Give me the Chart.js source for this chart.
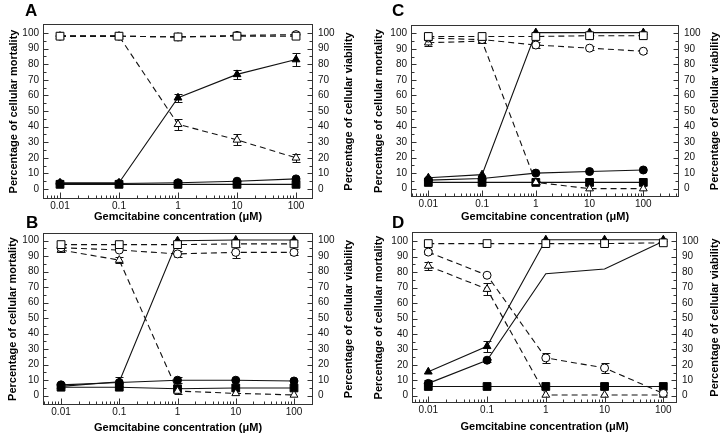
<!DOCTYPE html>
<html>
<head>
<meta charset="utf-8">
<script src="https://cdn.jsdelivr.net/npm/chart.js@4"></script>
<style>
  body { margin: 0; background: #fff; width: 728px; height: 437px; position: relative; overflow: hidden;
         font-family: "Liberation Sans", Arial, sans-serif; }
  canvas { position: absolute; }
  .tag { position: absolute; font-weight: bold; font-size: 17px; line-height: 18px; color: #000; }
</style>
</head>
<body>
<canvas id="chartA" width="364" height="232" style="left:0;top:0"></canvas>
<canvas id="chartC" width="364" height="232" style="left:364px;top:0"></canvas>
<canvas id="chartB" width="364" height="228" style="left:0;top:209px"></canvas>
<canvas id="chartD" width="364" height="228" style="left:364px;top:209px"></canvas>
<div class="tag" style="left:25px;top:2px">A</div>
<div class="tag" style="left:392px;top:2px">C</div>
<div class="tag" style="left:26px;top:214px">B</div>
<div class="tag" style="left:392px;top:214px">D</div>
<script>
const concentrations = [0.01, 0.1, 1, 10, 100];
const yTickValues = [0, 10, 20, 30, 40, 50, 60, 70, 80, 90, 100];
const xTitle = 'Gemcitabine concentration (μM)';
const leftTitle = 'Percentage of cellular mortality';
const rightTitle = 'Percentage of cellular viability';

// panel A
const aOpenSquare = [98, 98, 97.5, 98, 98];
const aOpenCircle = [98, 98, 97.5, 98.5, 99];
const aOpenTriangle = [98, 98, 41.5, 31.5, 20];
const aOpenTriangleErr = [0, 0, 3.5, 3.5, 2.5];
const aFilledTriangle = [4, 4, 58.5, 73.5, 83];
const aFilledTriangleErr = [0, 0, 2.5, 3, 4];
const aFilledCircle = [3.5, 3.5, 4, 5, 6.5];
const aFilledSquare = [3, 3, 3, 3, 3];

// panel B
const bOpenSquare = [97.5, 97.5, 97.5, 98, 98];
const bOpenCircle = [95.5, 94, 91.5, 92.5, 92.5];
const bOpenCircleErr = [0, 0, 2, 3.5, 2];
const bOpenTriangle = [94, 87.5, 3, 1.5, 0.5];
const bOpenTriangleErr = [1.5, 2, 2, 0, 0];
const bFilledTriangle = [6, 9, 100, 100.5, 100.5];
const bFilledTriangleErr = [0, 3, 0, 0, 0];
const bFilledCircle = [7, 8.5, 10, 10, 9.5];
const bFilledCircleErr = [0, 0, 2, 0, 0];
const bFilledSquare = [5.5, 5.5, 4.5, 5, 5];

// panel C
const cOpenSquare = [98, 98, 98, 98.5, 98.5];
const cOpenCircle = [97, 96, 92.5, 90.5, 88.5];
const cOpenCircleErr = [0, 0, 2, 1.5, 1];
const cOpenTriangle = [94, 95, 4, 0, 0];
const cOpenTriangleErr = [2, 1, 1, 0, 0];
const cFilledTriangle = [7, 9, 100.5, 100.5, 100.5];
const cFilledCircle = [5.5, 6.5, 10, 11, 12];
const cFilledSquare = [4, 4, 4, 4, 4];

// panel D
const dOpenSquare = [98.5, 98.5, 98.5, 98.5, 99];
const dOpenCircle = [93, 78, 24.5, 18, 1.5];
const dOpenCircleErr = [1.5, 0, 3, 3, 1];
const dOpenTriangle = [84, 69, 0.5, 0.5, 0.5];
const dOpenTriangleErr = [2.5, 4, 0, 0, 0];
const dFilledTriangle = [15.5, 32, 101, 101, 101];
const dFilledTriangleErr = [0, 3.5, 0, 0, 0];
const dFilledCircle = [8, 23, 79, 82, 100];
const dFilledCircleErr = [2, 1, 0, 0, 0];
const dFilledSquare = [6, 6, 6, 6, 6];

Chart.defaults.font.family = '"Liberation Sans", Arial, sans-serif';
Chart.defaults.color = '#000';

// marker helpers
const openSq = (v, e) => ({ values: v, errors: e, shape: 'rect', radius: 5.5, filled: false, dashed: true });
const openCi = (v, e) => ({ values: v, errors: e, shape: 'circle', radius: 4, filled: false, dashed: true });
const openTr = (v, e) => ({ values: v, errors: e, shape: 'triangle', radius: 4.5, filled: false, dashed: true });
const fillTr = (v, e) => ({ values: v, errors: e, shape: 'triangle', radius: 4.5, filled: true, dashed: false });
const fillCi = (v, e, r) => ({ values: v, errors: e, shape: 'circle', radius: r || 4, filled: true, dashed: false });
const fillSq = (v, e) => ({ values: v, errors: e, shape: 'rect', radius: 5.5, filled: true, dashed: false });

function toDataset(s) {
  return {
    data: concentrations.map((c, i) => ({ x: c, y: s.values[i] })),
    errors: s.errors || null,
    borderColor: '#111',
    borderWidth: 1.1,
    borderDash: s.dashed ? [6, 4] : [],
    pointStyle: s.shape,
    pointRadius: s.radius,
    pointBackgroundColor: s.filled ? '#000' : '#fff',
    pointBorderColor: '#000',
    pointBorderWidth: 1,
    tension: 0,
    fill: false
  };
}

const framePlugin = {
  id: 'frame',
  beforeDatasetsDraw(chart) {
    const ctx = chart.ctx, ys = chart.scales.y;
    ctx.save();
    ctx.strokeStyle = '#111';
    ctx.lineWidth = 1;
    chart.data.datasets.forEach((ds, di) => {
      if (!ds.errors) return;
      chart.getDatasetMeta(di).data.forEach((pt, i) => {
        const e = ds.errors[i];
        if (!e) return;
        const v = ds.data[i].y;
        const x = Math.round(pt.x) + 0.5;
        const yt = Math.round(ys.getPixelForValue(v + e)) + 0.5;
        const yb = Math.round(ys.getPixelForValue(v - e)) + 0.5;
        ctx.beginPath();
        ctx.moveTo(x, yt); ctx.lineTo(x, yb);
        ctx.moveTo(x - 4, yt); ctx.lineTo(x + 4, yt);
        ctx.moveTo(x - 4, yb); ctx.lineTo(x + 4, yb);
        ctx.stroke();
      });
    });
    ctx.restore();
  },
  afterDraw(chart, args, opts) {
    const ctx = chart.ctx, a = chart.chartArea;
    const xs = chart.scales.x, ys = chart.scales.y;
    const L = Math.round(a.left) + 0.5, R = Math.round(a.right) - 0.5;
    const T = Math.round(a.top) + 0.5, B = Math.round(a.bottom) - 0.5;
    ctx.save();
    ctx.strokeStyle = '#333';
    ctx.lineWidth = 1;
    ctx.strokeRect(L, T, R - L, B - T);
    ctx.beginPath();
    // y ticks, inward on both sides
    for (let v = 0; v <= 100; v += 5) {
      const len = v % 10 === 0 ? 5 : 3;
      const y = Math.round(ys.getPixelForValue(v)) + 0.5;
      ctx.moveTo(L, y); ctx.lineTo(L + len, y);
      ctx.moveTo(R, y); ctx.lineTo(R - len, y);
    }
    // x ticks, inward, log minor ticks
    for (let p = -3; p <= 3; p++) {
      for (let m = 1; m <= 9; m++) {
        const v = m * Math.pow(10, p);
        if (v < xs.min || v > xs.max) continue;
        const x = Math.round(xs.getPixelForValue(v)) + 0.5;
        const len = m === 1 ? 6 : 3;
        ctx.moveTo(x, B); ctx.lineTo(x, B - len);
      }
    }
    ctx.stroke();
    // side titles, both reading bottom to top
    ctx.fillStyle = '#000';
    ctx.font = 'bold 11px "Liberation Sans", Arial, sans-serif';
    ctx.textAlign = 'center';
    ctx.textBaseline = 'middle';
    const midY = (a.top + a.bottom) / 2;
    [[opts.leftTitleX, leftTitle], [opts.rightTitleX, rightTitle]].forEach(([x, text]) => {
      ctx.save();
      ctx.translate(x, midY);
      ctx.rotate(-Math.PI / 2);
      ctx.fillText(text, 0, 0);
      ctx.restore();
    });
    ctx.restore();
  }
};

function makePanel(id, series, f) {
  const canvas = document.getElementById(id);
  const yCommon = {
    type: 'linear', min: f.yMin, max: f.yMax,
    afterBuildTicks: s => { s.ticks = yTickValues.map(v => ({ value: v })); },
    grid: { display: false, drawTicks: false },
    border: { display: false },
    title: { display: false }
  };
  new Chart(canvas, {
    type: 'line',
    data: { datasets: series.map(toDataset) },
    options: {
      responsive: false,
      animation: false,
      layout: { padding: { top: f.top, left: 0, right: 0, bottom: 0 } },
      plugins: {
        legend: { display: false },
        tooltip: { enabled: false },
        frame: { leftTitleX: f.leftTitleX, rightTitleX: f.rightTitleX }
      },
      scales: {
        x: {
          type: 'logarithmic', position: 'bottom', min: f.xMin, max: f.xMax,
          afterBuildTicks: s => { s.ticks = concentrations.map(v => ({ value: v })); },
          afterFit: s => { s.height = f.xAxisHeight; },
          ticks: { callback: v => String(v), autoSkip: false, maxRotation: 0, padding: 1,
                   font: { size: 10 }, color: '#111' },
          grid: { display: false, drawTicks: false },
          border: { display: false },
          title: { display: true, text: xTitle, font: { size: 11, weight: 'bold' },
                   padding: { top: 0, bottom: f.titlePad } }
        },
        y: Object.assign({}, yCommon, {
          position: 'left',
          afterFit: s => { s.width = f.left; },
          ticks: { padding: 4, font: { size: 10 }, color: '#111' }
        }),
        y2: Object.assign({}, yCommon, {
          position: 'right',
          afterFit: s => { s.width = canvas.width - f.right; },
          ticks: { padding: 5, font: { size: 10 }, color: '#111' }
        })
      }
    },
    plugins: [framePlugin]
  });
}

makePanel('chartA', [
  openSq(aOpenSquare), openCi(aOpenCircle), openTr(aOpenTriangle, aOpenTriangleErr),
  fillTr(aFilledTriangle, aFilledTriangleErr), fillCi(aFilledCircle), fillSq(aFilledSquare)
], { left: 43, right: 313, top: 24, xAxisHeight: 33, xMin: 0.00515, xMax: 194,
     yMin: -6.4, yMax: 105.8, titlePad: 8.4, leftTitleX: 14, rightTitleX: 349 });

makePanel('chartB', [
  openSq(bOpenSquare), openCi(bOpenCircle, bOpenCircleErr), openTr(bOpenTriangle, bOpenTriangleErr),
  fillTr(bFilledTriangle, bFilledTriangleErr), fillCi(bFilledCircle, bFilledCircleErr), fillSq(bFilledSquare)
], { left: 43, right: 313, top: 24, xAxisHeight: 32, xMin: 0.0049, xMax: 212,
     yMin: -6, yMax: 105, titlePad: 2.4, leftTitleX: 13, rightTitleX: 349 });

makePanel('chartC', [
  openSq(cOpenSquare), openCi(cOpenCircle, cOpenCircleErr), openTr(cOpenTriangle, cOpenTriangleErr),
  fillTr(cFilledTriangle), fillCi(cFilledCircle), fillSq(cFilledSquare)
], { left: 47, right: 315, top: 25, xAxisHeight: 35, xMin: 0.00476, xMax: 461,
     yMin: -5.4, yMax: 105.4, titlePad: 8.4, leftTitleX: 15, rightTitleX: 351 });

makePanel('chartD', [
  openSq(dOpenSquare), openCi(dOpenCircle, dOpenCircleErr), openTr(dOpenTriangle, dOpenTriangleErr),
  fillTr(dFilledTriangle, dFilledTriangleErr), fillCi(dFilledCircle, dFilledCircleErr, [4, 4, 0, 0, 0]),
  fillSq(dFilledSquare)
], { left: 48, right: 313, top: 23, xAxisHeight: 34, xMin: 0.00528, xMax: 171,
     yMin: -4.7, yMax: 106, titlePad: 3, leftTitleX: 15, rightTitleX: 351 });
</script>
</body>
</html>
